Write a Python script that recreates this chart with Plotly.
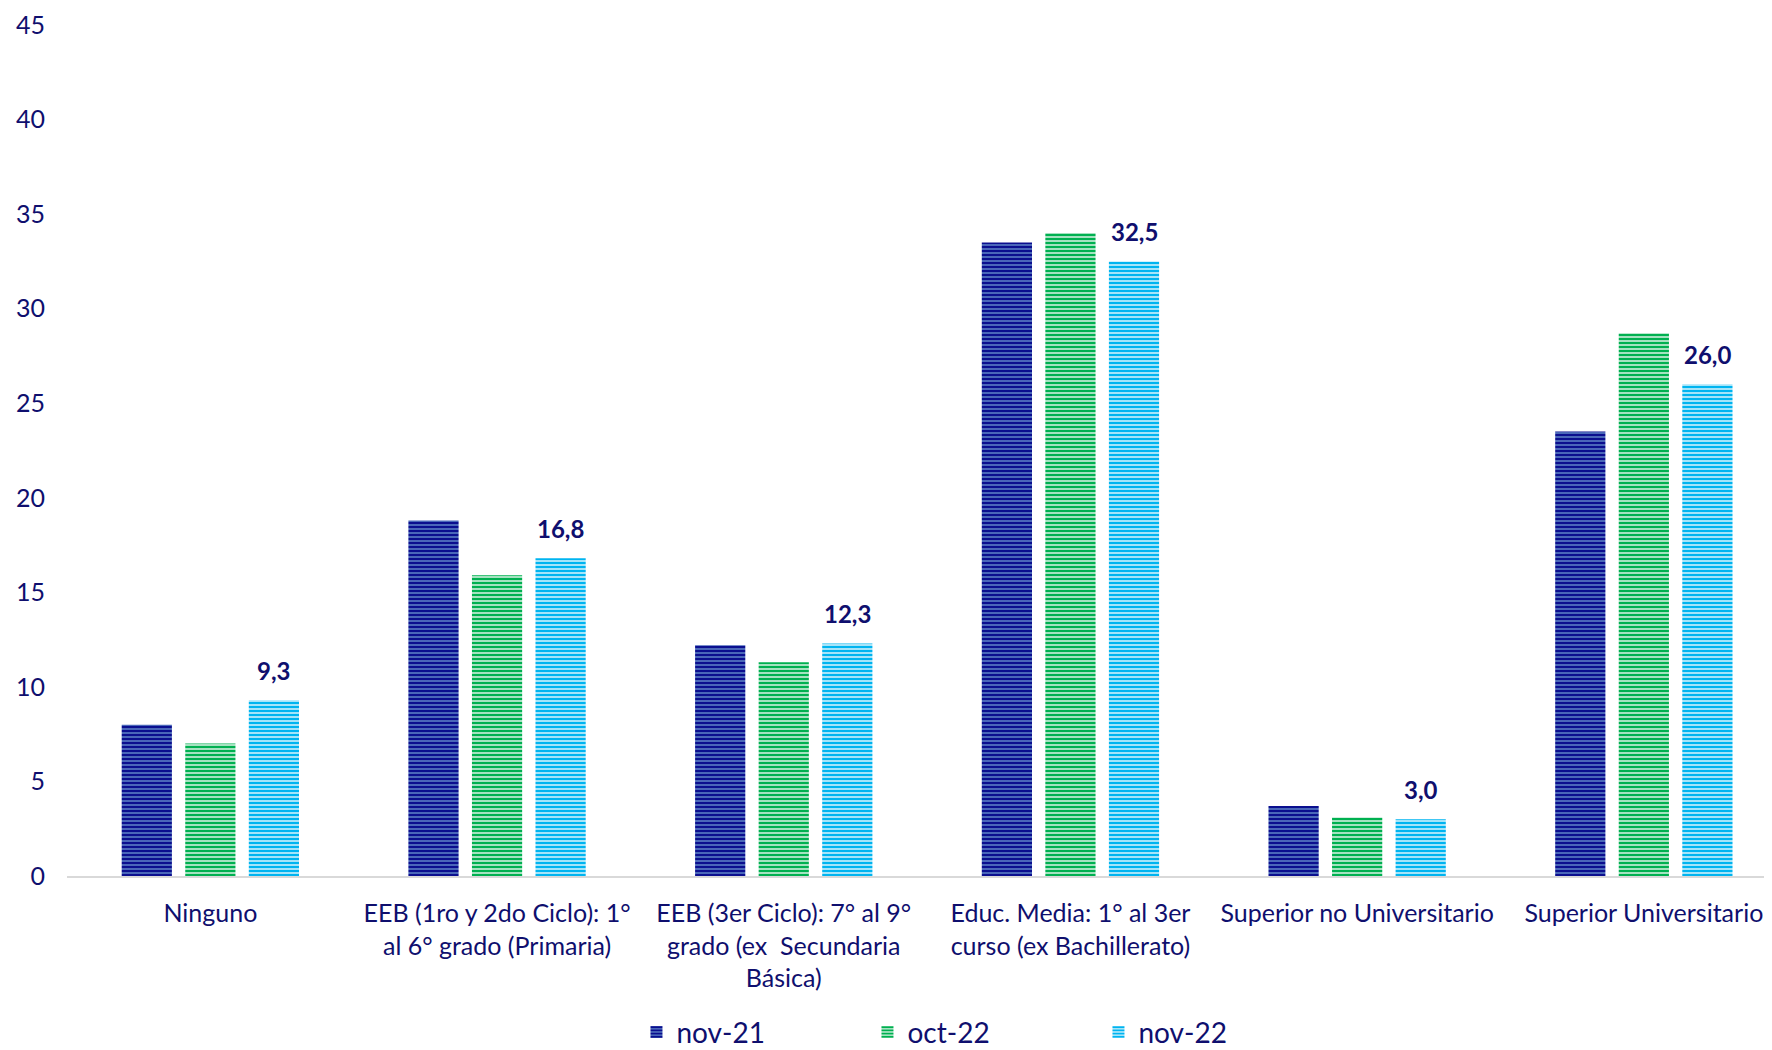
import plotly.graph_objects as go

# Nivel educativo (categorías del eje X)
categories = [
    "Ninguno",
    "EEB (1ro y 2do Ciclo): 1°<br>al 6° grado (Primaria)",
    "EEB (3er Ciclo): 7° al 9°<br>grado (ex  Secundaria<br>Básica)",
    "Educ. Media: 1° al 3er<br>curso (ex Bachillerato)",
    "Superior no Universitario",
    "Superior Universitario",
]

# Porcentajes por periodo
nov21 = [8.0, 18.8, 12.2, 33.5, 3.7, 23.5]
oct22 = [7.0, 15.9, 11.3, 34.0, 3.1, 28.7]
nov22 = [9.3, 16.8, 12.3, 32.5, 3.0, 26.0]

y_ticks = [0, 5, 10, 15, 20, 25, 30, 35, 40, 45]

navy = "#0f0f6e"
font_name = "Lato"

# geometria del grafico (el body del html tiene 8px de margen)
W, H = 1764, 1042
ML, MR, MT, MB = 59, 0, 17, 174
x_range = [-0.5, 5.447]
bargap, bargroupgap = 0.335, 0.21

fig = go.Figure()

fig.add_trace(go.Bar(
    x=categories, y=nov21, name="nov-21",
    marker=dict(color="#0b0f8f", line=dict(width=0),
                pattern=dict(shape="-", fgcolor="#0b0f8f", bgcolor="#5a7dc4",
                             fgopacity=1, size=4, solidity=0.6)),
))
fig.add_trace(go.Bar(
    x=categories, y=oct22, name="oct-22",
    marker=dict(color="#00b050", line=dict(width=0),
                pattern=dict(shape="-", fgcolor="#00b050", bgcolor="white",
                             fgopacity=1, size=4, solidity=0.68)),
))
fig.add_trace(go.Bar(
    x=categories, y=nov22, name="nov-22",
    marker=dict(color="#00b4f0", line=dict(width=0),
                pattern=dict(shape="-", fgcolor="#00b4f0", bgcolor="white",
                             fgopacity=1, size=4, solidity=0.68)),
))

# etiquetas de datos sobre la serie nov-22
px_per_cat = (W - ML - MR) / (x_range[1] - x_range[0])
shift = (1 - bargap) / 3 * px_per_cat
for cat, v in zip(categories, nov22):
    fig.add_annotation(
        x=cat, y=v, xref="x", yref="y", text=f"{v:.1f}".replace(".", ","),
        showarrow=False, xshift=shift, yshift=13, yanchor="bottom",
        font=dict(family=font_name, size=24, color=navy, weight="bold"),
    )

fig.update_layout(
    width=W, height=H,
    margin=dict(l=ML, r=MR, t=MT, b=MB, autoexpand=False),
    plot_bgcolor="white", paper_bgcolor="white",
    barmode="group", bargap=bargap, bargroupgap=bargroupgap,
    font=dict(family=font_name, size=25, color=navy),
    showlegend=True,
    legend=dict(orientation="h", xref="paper", x=0.334, xanchor="left",
                yref="container", y=0.017, yanchor="middle",
                font=dict(size=28, color=navy), entrywidth=186,
                traceorder="normal"),
)

fig.update_xaxes(
    range=x_range, showgrid=False, showline=True, automargin=False,
    linecolor="#d9d9d9", linewidth=2, ticks="", ticklabelstandoff=14,
    tickfont=dict(size=25, color=navy),
)
fig.update_yaxes(
    range=[0, 45], tickvals=y_ticks, showgrid=False, zeroline=False,
    showline=False, ticks="", ticklabelstandoff=21, automargin=False,
    ticklabeloverflow="allow", tickfont=dict(size=25, color=navy),
)

fig.write_html("out.html")
